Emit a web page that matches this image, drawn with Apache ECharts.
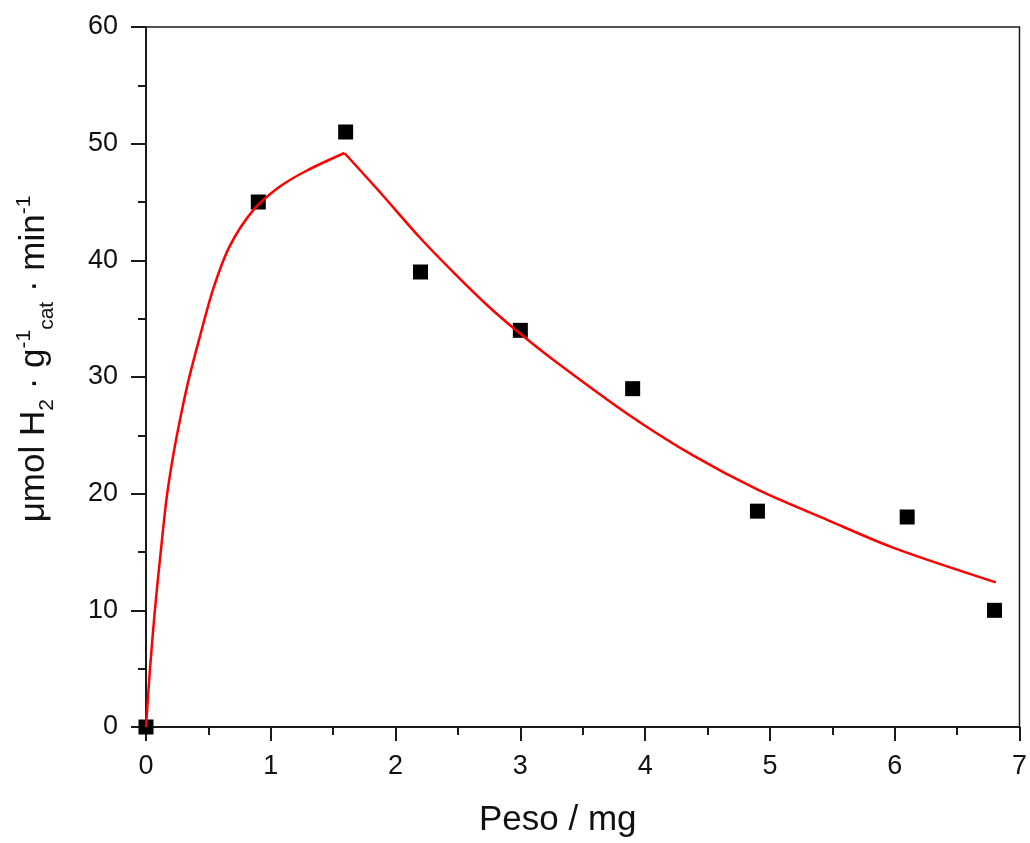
<!DOCTYPE html>
<html>
<head>
<meta charset="utf-8">
<script src="https://cdn.jsdelivr.net/npm/echarts@6/dist/echarts.min.js"></script>
<style>
html,body{margin:0;padding:0;background:#fff;}
#chart{width:1030px;height:843px;}
</style>
</head>
<body>
<div id="chart"></div>
<script>
// Measured data points (Peso / mg, µmol H2 · g-1 cat · min-1)
var pointX = [0, 0.9, 1.6, 2.2, 3.0, 3.9, 4.9, 6.1, 6.8];
var pointY = [0, 45, 51, 39, 34, 29, 18.5, 18, 10];

// Fitted curve: rising branch and falling branch
var riseX = [0, 0.032, 0.072, 0.117, 0.165, 0.22, 0.285, 0.345, 0.43, 0.54, 0.67, 0.86, 1.07, 1.29, 1.59];
var riseY = [0, 5.0, 10.1, 14.9, 19.6, 23.4, 27.0, 29.9, 33.4, 37.6, 41.2, 44.3, 46.3, 47.7, 49.2];
var fallX = [1.59, 1.87, 2.19, 2.48, 2.75, 3.0, 3.26, 3.85, 4.38, 4.91, 5.45, 5.98, 6.81];
var fallY = [49.2, 45.9, 42.0, 38.8, 36.0, 33.7, 31.5, 26.9, 23.3, 20.3, 17.8, 15.4, 12.4];

var xTicks = [0, 1, 2, 3, 4, 5, 6, 7];
var yTicks = [0, 10, 20, 30, 40, 50, 60];

var chart = echarts.init(document.getElementById('chart'), null, {renderer: 'canvas'});
var FONT = '"Liberation Sans", Arial, sans-serif';
var AX = '#1a1a1a';

function pairs(xs, ys) { return xs.map(function (x, i) { return [x, ys[i]]; }); }

chart.setOption({
  animation: false,
  backgroundColor: '#ffffff',
  grid: {
    left: 146, right: 9, top: 27, bottom: 111,
    show: true, borderColor: AX, borderWidth: 1.5, backgroundColor: 'transparent'
  },
  xAxis: {
    type: 'value',
    min: xTicks[0], max: xTicks[xTicks.length - 1], interval: 1,
    name: 'Peso / mg',
    nameLocation: 'middle',
    nameGap: 76,
    nameTextStyle: {fontFamily: FONT, fontSize: 35, color: '#111', padding: [0, 50, 0, 0]},
    axisLine: {show: true, onZero: false, lineStyle: {color: AX, width: 2}},
    axisTick: {show: true, inside: false, length: 14, lineStyle: {color: AX, width: 2}},
    minorTick: {show: true, splitNumber: 2, length: 8, lineStyle: {color: AX, width: 2}},
    axisLabel: {fontFamily: FONT, fontSize: 27, color: '#111', margin: 26},
    splitLine: {show: false}
  },
  yAxis: {
    type: 'value',
    min: yTicks[0], max: yTicks[yTicks.length - 1], interval: 10,
    name: '{m|μmol H}{sub|2}{m| · g}{sup|-1}{sub|cat}{m| · min}{sup|-1}',
    nameLocation: 'middle',
    nameGap: 88,
    nameRotate: 90,
    nameTextStyle: {
      fontFamily: FONT, color: '#111', padding: [0, 0, 0, 36],
      rich: {
        m: {fontFamily: FONT, fontSize: 35, color: '#111', lineHeight: 48, verticalAlign: 'middle'},
        sub: {fontFamily: FONT, fontSize: 21, color: '#111', lineHeight: 48, verticalAlign: 'bottom'},
        sup: {fontFamily: FONT, fontSize: 21, color: '#111', lineHeight: 48, verticalAlign: 'top', padding: [4, 0, 0, 0]}
      }
    },
    axisLine: {show: true, onZero: false, lineStyle: {color: AX, width: 2}},
    axisTick: {show: true, inside: false, length: 15, lineStyle: {color: AX, width: 2}},
    minorTick: {show: true, splitNumber: 2, length: 8, lineStyle: {color: AX, width: 2}},
    axisLabel: {fontFamily: FONT, fontSize: 27, color: '#111', margin: 28},
    splitLine: {show: false}
  },
  series: [
    {
      type: 'scatter',
      data: pairs(pointX, pointY),
      symbol: 'rect',
      symbolSize: 15,
      itemStyle: {color: '#000', opacity: 1},
      clip: false,
      z: 2
    },
    {
      type: 'line',
      data: pairs(riseX, riseY),
      showSymbol: false,
      smooth: 0.3,
      lineStyle: {color: '#ff0000', width: 2.5},
      z: 3
    },
    {
      type: 'line',
      data: pairs(fallX, fallY),
      showSymbol: false,
      smooth: 0.3,
      lineStyle: {color: '#ff0000', width: 2.5},
      z: 3
    }
  ]
});
</script>
</body>
</html>
